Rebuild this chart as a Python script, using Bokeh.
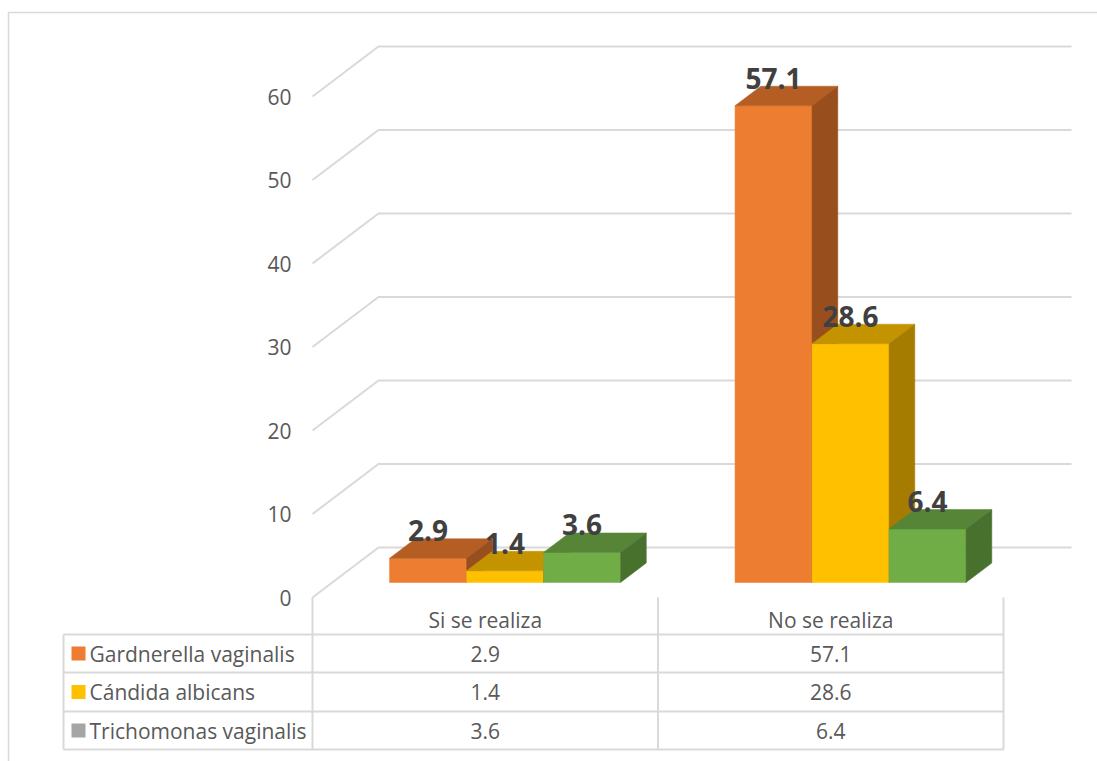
from bokeh.plotting import figure
from bokeh.models import Range1d
from bokeh.embed import file_html
from bokeh.resources import INLINE
from bokeh.core.properties import value

# ---------------- data ----------------
categories = ["Si se realiza", "No se realiza"]
series = ["Gardnerella vaginalis", "Cándida albicans", "Trichomonas vaginalis"]
gardnerella = [2.9, 57.1]
candida = [1.4, 28.6]
trichomonas = [3.6, 6.4]
y_ticks = [0, 10, 20, 30, 40, 50, 60]

values = [gardnerella, candida, trichomonas]

# ---------------- styles ----------------
front_colors = ["#ED7D31", "#FFC000", "#70AD47"]
top_colors = ["#B55E24", "#C49300", "#568538"]
side_colors = ["#994E1D", "#A57C00", "#49712E"]
legend_colors = ["#ED7D31", "#FFC000", "#A5A5A5"]
grid_color = "#D9D9D9"
text_color = "#595959"
label_color = "#404040"
FONT = "Open Sans"

# ---------------- layout (pixels) ----------------
W, H = 1097, 761
OX, OY = 312, 597          # front origin of plot (pixels)
PX_CAT = 345.5             # pixels per category
PX_VAL = 8.35              # pixels per value unit


def cx(px):
    return (px - OX) / PX_CAT


def vy(py):
    return (OY - py) / PX_VAL


DX = 66 / PX_CAT           # depth offset in x (category units)
DY = 50 / PX_VAL           # depth offset in y (value units)
F0, F1 = 0.30, 0.69        # bar front / back depth fraction
BW = 77 / PX_CAT           # bar width in category units

p = figure(width=W, height=H, output_backend="svg", toolbar_location=None,
           x_range=Range1d(-OX / PX_CAT, (W - OX) / PX_CAT),
           y_range=Range1d(-(H - OY) / PX_VAL, OY / PX_VAL),
           min_border=0, min_border_left=0, min_border_right=0,
           min_border_top=0, min_border_bottom=0)
p.axis.visible = False
p.grid.visible = False
p.outline_line_color = None
p.background_fill_color = "white"
p.border_fill_color = "white"

# outer chart border
p.line(x=[cx(8), cx(8), cx(1100)], y=[vy(770), vy(12), vy(12)],
       line_color=grid_color, line_width=1.5)

# gridlines (front diagonal + back wall)
x_end = cx(1071)
p.multi_line(xs=[[0, DX, x_end] for t in y_ticks],
             ys=[[t, t + DY, t + DY] for t in y_ticks],
             line_color=grid_color, line_width=2)

# y tick labels
p.text(x=[cx(291)] * len(y_ticks), y=y_ticks, text=[str(t) for t in y_ticks],
       text_align="right", text_baseline="middle", text_font=value(FONT),
       text_font_size="21px", text_color=text_color)

# ---------------- bars (painter's order) ----------------
xs_all, ys_all, col_all = [], [], []
lab_x, lab_y, lab_t = [], [], []
d = F1 - F0
for j, cat in enumerate(categories):
    for i, s in enumerate(series):
        v = values[i][j]
        L = j + 0.5 - 1.5 * BW + i * BW + F0 * DX
        R = L + BW
        B = F0 * DY
        T = v + F0 * DY
        # front
        xs_all.append([L, R, R, L]); ys_all.append([B, B, T, T]); col_all.append(front_colors[i])
        # top
        xs_all.append([L, R, R + d * DX, L + d * DX]); ys_all.append([T, T, T + d * DY, T + d * DY]); col_all.append(top_colors[i])
        # side
        xs_all.append([R, R + d * DX, R + d * DX, R]); ys_all.append([B, B + d * DY, T + d * DY, T]); col_all.append(side_colors[i])
        lab_x.append((L + R) / 2)
        lab_y.append(v + F1 * DY)
        lab_t.append(f"{v:.1f}")

p.patches(xs=xs_all, ys=ys_all, fill_color=col_all, line_color=col_all, line_width=0.5)

p.text(x=lab_x, y=lab_y, text=lab_t, text_align="center", text_baseline="alphabetic",
       y_offset=-8,
       text_font=value(FONT), text_font_size="28px", text_font_style="bold",
       text_color=label_color)

# ---------------- data table ----------------
row_lines = [634, 672, 711, 749]
tl = cx(63)
p.multi_line(xs=[[tl, 2] for r in row_lines], ys=[[vy(r), vy(r)] for r in row_lines],
             line_color=grid_color, line_width=2)
p.multi_line(xs=[[tl, tl], [0, 0], [1, 1], [2, 2]],
             ys=[[vy(634), vy(749)], [0, vy(749)], [0, vy(749)], [0, vy(749)]],
             line_color=grid_color, line_width=2)

# header
p.text(x=[j + 0.5 for j in range(len(categories))], y=[vy(619)] * len(categories),
       text=categories, text_align="center", text_baseline="middle",
       text_font=value(FONT), text_font_size="21px", text_color=text_color)

row_mid = [(row_lines[k] + row_lines[k + 1]) / 2 for k in range(3)]
p.rect(x=[cx(78)] * 3, y=[vy(r) for r in row_mid], width=14, height=14,
       width_units="screen", height_units="screen",
       fill_color=legend_colors, line_color=None)
p.text(x=[cx(89)] * 3, y=[vy(r) for r in row_mid], text=series,
       text_align="left", text_baseline="middle", text_font=value(FONT),
       text_font_size="21px", text_color=text_color)

cell_x, cell_y, cell_t = [], [], []
for i in range(len(series)):
    for j in range(len(categories)):
        cell_x.append(j + 0.5)
        cell_y.append(vy(row_mid[i]))
        cell_t.append(f"{values[i][j]:.1f}")
p.text(x=cell_x, y=cell_y, text=cell_t, text_align="center", text_baseline="middle",
       text_font=value(FONT), text_font_size="21px", text_color=text_color)

open("out.html", "w").write(file_html(p, INLINE))
